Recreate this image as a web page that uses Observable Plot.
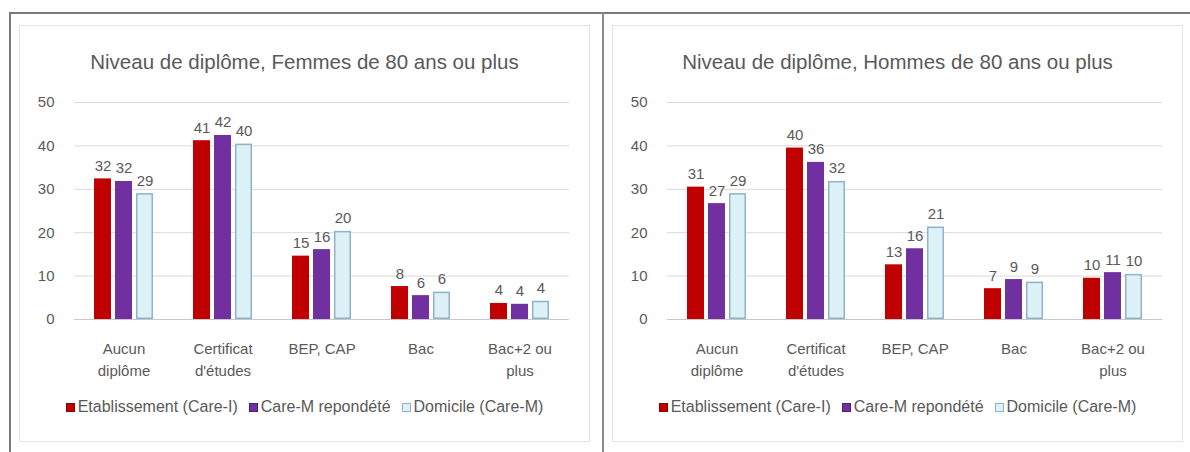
<!DOCTYPE html>
<html>
<head>
<meta charset="utf-8">
<script src="https://cdn.jsdelivr.net/npm/d3@7"></script>
<script src="https://cdn.jsdelivr.net/npm/@observablehq/plot@0.6"></script>
<style>
  body { margin: 0; background: #fff; font-family: "Liberation Sans", Arial, sans-serif; }
  #root { position: relative; width: 1190px; height: 452px; overflow: hidden; background: #fff; }
  .line { position: absolute; background: #7a7a7a; }
  .panel { position: absolute; top: 25px; height: 417px; border: 1px solid #e2e2e2; box-sizing: border-box; background: #fff; }
  .title { position: absolute; top: 24px; left: 0; right: 0; text-align: center; font-size: 20.5px; color: #595959; }
  .legend { position: absolute; top: 372px; left: 0; right: 0; display: flex; justify-content: center; gap: 11px; font-size: 16px; color: #595959; }
  .legend span.item { display: inline-flex; align-items: center; }
  .legend span.sw { display: inline-block; width: 9px; height: 9px; margin-right: 3px; box-sizing: border-box; }
</style>
</head>
<body>
<div id="root">
  <div class="line" style="left:9px; top:12px; width:1181px; height:2px;"></div>
  <div class="line" style="left:9px; top:12px; width:2px; height:440px;"></div>
  <div class="line" style="left:602px; top:12px; width:2px; height:440px; background:#8a8a8a;"></div>
  <div class="panel" id="p1" style="left:19px; width:571px;"></div>
  <div class="panel" id="p2" style="left:612px; width:571px;"></div>
</div>
<script>
const categories = ["Aucun diplôme", "Certificat d'études", "BEP, CAP", "Bac", "Bac+2 ou plus"];
const categoryLabels = ["Aucun\ndiplôme", "Certificat\nd'études", "BEP, CAP", "Bac", "Bac+2 ou\nplus"];
const series = ["Etablissement (Care-I)", "Care-M repondété", "Domicile (Care-M)"];
const seriesColors = ["#c00000", "#7030a0", "#dcf2f7"];
const swatchBorders = ["#8b0000", "#4b2070", "#8fb3c8"];
const yTicks = [0, 10, 20, 30, 40, 50];

const femmesEtablissement = [32.4, 41.2, 14.6, 7.6, 3.7];
const femmesCareM = [31.8, 42.4, 16.1, 5.5, 3.5];
const femmesDomicile = [29.0, 40.4, 20.3, 6.3, 4.2];

const hommesEtablissement = [30.5, 39.5, 12.6, 7.1, 9.5];
const hommesCareM = [26.7, 36.2, 16.3, 9.2, 10.8];
const hommesDomicile = [29.0, 31.8, 21.3, 8.6, 10.4];

const titles = ["Niveau de diplôme, Femmes de 80 ans ou plus", "Niveau de diplôme, Hommes de 80 ans ou plus"];

function rows(a, b, c) {
  const out = [];
  categories.forEach((cat, i) => {
    [a, b, c].forEach((arr, j) => out.push({cat, label: categoryLabels[i], series: series[j], value: arr[i]}));
  });
  return out;
}

function draw(panelId, title, data) {
  const panel = document.getElementById(panelId);
  const t = document.createElement("div");
  t.className = "title";
  t.textContent = title;
  panel.appendChild(t);

  const chart = Plot.plot({
    width: 569,
    height: 290,
    marginLeft: 52,
    marginRight: 18,
    marginTop: 10,
    marginBottom: 63,
    style: {fontFamily: "Liberation Sans, Arial, sans-serif", fontSize: "15px", color: "#595959", background: "transparent"},
    facet: {data, x: "cat"},
    fx: {domain: categories, padding: 0, axis: null},
    x: {domain: series, paddingInner: 0.2, paddingOuter: 0.9, axis: null},
    y: {domain: [0, 50], ticks: yTicks, tickSize: 0, tickPadding: 20, label: null},
    color: {domain: series, range: seriesColors},
    marks: [
      Plot.ruleY(yTicks.filter(v => v > 0), {stroke: "#d9d9d9", strokeWidth: 1}),
      Plot.ruleY([0], {stroke: "#c8c8c8", strokeWidth: 1}),
      Plot.barY(data, {x: "series", y: "value", fill: "series"}),
      Plot.barY(data, {filter: d => d.series === series[2], x: "series", y: "value", fill: "none", stroke: "#8fb3c8", strokeWidth: 1.5, inset: 0.75}),
      Plot.text(data, {x: "series", y: "value", text: d => d3.format(".0f")(d.value), dy: -8, lineAnchor: "bottom", fill: "#595959", fontSize: 15}),
      Plot.text(data, {filter: d => d.series === series[0], text: "label", frameAnchor: "bottom", lineAnchor: "top", dy: 19, lineHeight: 1.45, fill: "#595959", fontSize: 15})
    ]
  });
  chart.style.position = "absolute";
  chart.style.top = "66px";
  chart.style.left = "0px";
  panel.appendChild(chart);

  const legend = document.createElement("div");
  legend.className = "legend";
  series.forEach((s, i) => {
    const item = document.createElement("span");
    item.className = "item";
    const sw = document.createElement("span");
    sw.className = "sw";
    sw.style.background = seriesColors[i];
    sw.style.border = "1px solid " + swatchBorders[i];
    item.appendChild(sw);
    item.appendChild(document.createTextNode(s));
    legend.appendChild(item);
  });
  panel.appendChild(legend);
}

draw("p1", titles[0], rows(femmesEtablissement, femmesCareM, femmesDomicile));
draw("p2", titles[1], rows(hommesEtablissement, hommesCareM, hommesDomicile));
</script>
</body>
</html>
